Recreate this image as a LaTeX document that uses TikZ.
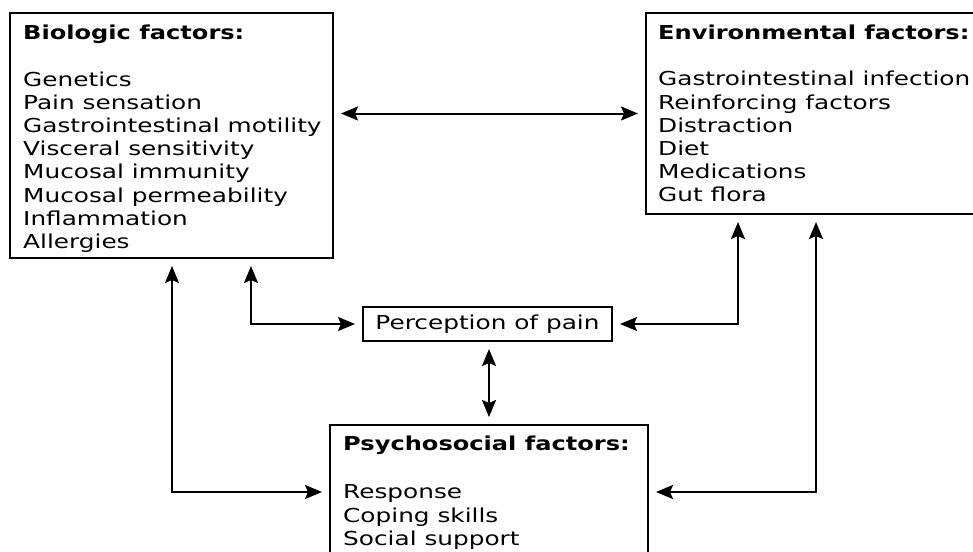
\documentclass[tikz,border=0pt]{standalone}
\usepackage{fontspec}
\setmainfont{DejaVu Sans}[FakeStretch=1.29, BoldFeatures={FakeStretch=1.255}]
\usetikzlibrary{arrows.meta}
\tikzset{
  box/.style={draw=black, line width=2pt, inner sep=0pt},
  txt/.style={anchor=north west, inner sep=0pt, align=left, text=black,
    font=\fontsize{19.2}{23.2}\selectfont},
  tip/.tip={Stealth[length=17pt,width=14pt,inset=3pt]},
  conn/.style={line width=2pt, draw=black, tip-tip,
    shorten >=7pt, shorten <=7pt}
}
\begin{document}
\begin{tikzpicture}[x=1pt,y=-1pt]
\path[use as bounding box] (0,0) rectangle (973,551);
\clip (0,0) rectangle (973,551);
% boxes
\node[box, minimum width=323pt, minimum height=245pt] (bio) at (171.5,135.5) {};
\node[box, minimum width=354pt, minimum height=201pt] (env) at (823,113.5) {};
\node[box, minimum width=249pt, minimum height=34pt,
  font=\fontsize{19.2}{23.2}\selectfont] (per) at (487.5,324) {Perception of pain};
\node[box, minimum width=318pt, minimum height=155pt] (psy) at (489,502.5) {};
% texts
\node[txt] (biotxt) at (23,24.9) {\textbf{Biologic factors:}\\[23.3pt]Genetics\\Pain sensation\\Gastrointestinal motility\\Visceral sensitivity\\Mucosal immunity\\Mucosal permeability\\Inflammation\\Allergies};
\node[txt] (envtxt) at (658,24.7) {\textbf{Environmental factors:}\\[23.3pt]Gastrointestinal infection\\Reinforcing factors\\Distraction\\Diet\\Medications\\Gut flora};
\node[txt] (pstxt) at (343,435.4) {\textbf{Psychosocial factors:}\\[25.5pt]Response\\Coping skills\\Social support};
% bend points
\coordinate (k1) at (172,492);
\coordinate (k2) at (251,324);
\coordinate (k3) at (738,324);
\coordinate (k4) at (816,492);
% connectors
\draw[conn] (bio.east |- env.west) -- (env.west);
\draw[conn] (bio.south -| k1) -- (k1) -- (psy.west |- k1);
\draw[conn] (bio.south -| k2) -- (k2) -- (per.west);
\draw[conn] (per.south -| psy.north) -- (psy.north);
\draw[conn] (env.south -| k3) -- (k3) -- (per.east);
\draw[conn] (env.south -| k4) -- (k4) -- (psy.east |- k4);
\end{tikzpicture}
\end{document}
